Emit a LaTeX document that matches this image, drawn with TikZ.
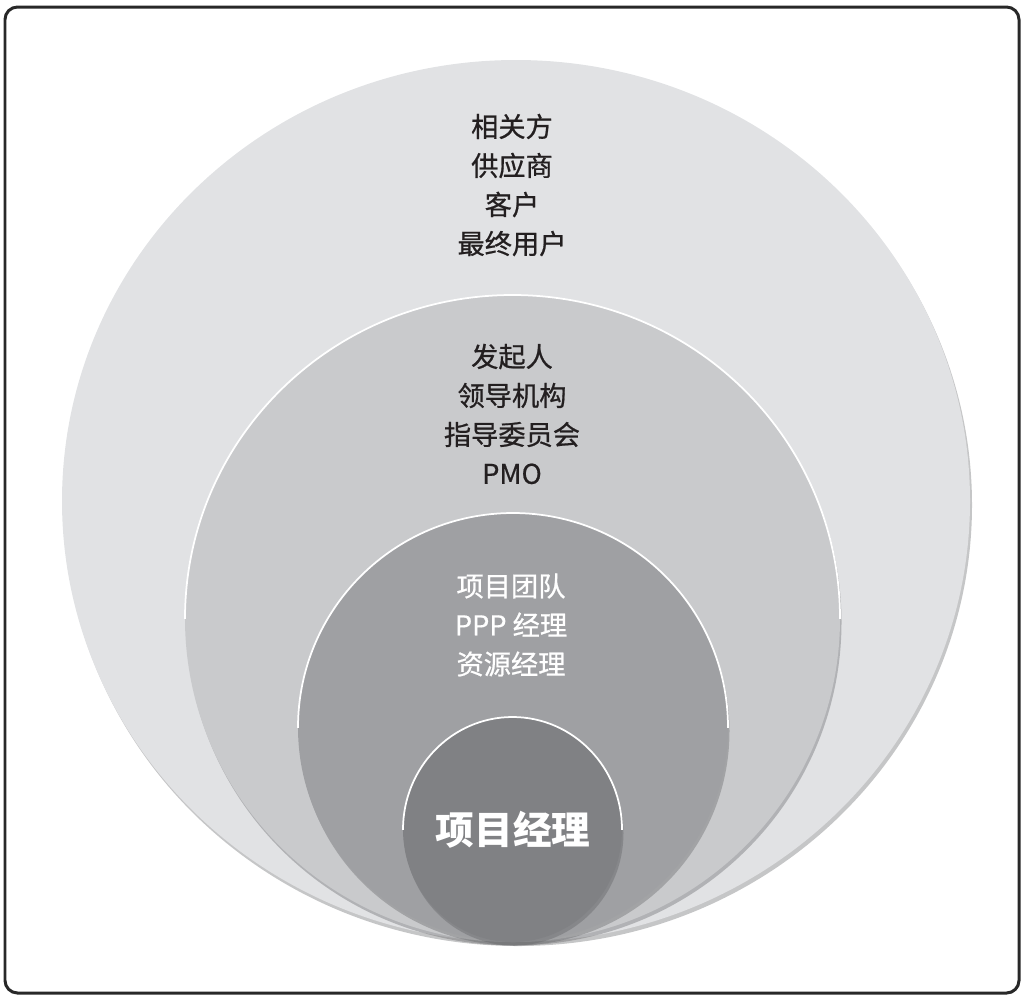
\documentclass[tikz,border=0pt]{standalone}
\usepackage{fontspec}
\setmainfont{Noto Sans CJK SC}
\newfontfamily\labelfont[RawFeature={embolden=0.7}]{Noto Sans CJK SC}
\usepackage{xcolor}
\usepackage{tikz}
\usetikzlibrary{positioning}
\definecolor{ringone}{RGB}{225,226,228}
\definecolor{ringtwo}{RGB}{201,202,204}
\definecolor{ringthree}{RGB}{159,160,163}
\definecolor{ringfour}{RGB}{128,129,132}
\definecolor{ringshade}{RGB}{90,91,94}
\definecolor{inkgray}{RGB}{35,31,32}
\definecolor{framegray}{RGB}{40,40,40}

\begin{document}
\begin{tikzpicture}[x=0.02cm, y=-0.02cm,
  every node/.style={font=\labelfont\fontsize{15.5}{22.2}\selectfont, align=center},
  darklabel/.style={text=inkgray},
  lightlabel/.style={text=white},
  ringshadow/.style={fill=ringshade, opacity=0.35},
  ringrim/.style={draw=white, line width=0.035cm}]
  \useasboundingbox (0,0) rectangle (1023,995);
  \draw[framegray, line width=0.06cm, rounded corners=0.25cm] (5,7) rectangle (1019,993);
  % outer ring
  \fill[ringshadow] (518,505) ellipse [x radius=454, y radius=441];
  \fill[ringone] (516,501) ellipse [x radius=454, y radius=441];
  % sponsor ring
  \fill[ringshadow] (514,622) ellipse [x radius=327.5, y radius=323.5];
  \fill[ringtwo] (512.5,618.5) ellipse [x radius=327.5, y radius=323.5];
  \begin{scope}
    \clip (0,0) rectangle (1023,618.5);
    \draw[ringrim] (512.5,618.5) ellipse [x radius=327.5, y radius=323.5];
  \end{scope}
  % team ring
  \fill[ringshadow] (514.5,731) ellipse [x radius=215, y radius=214.5];
  \fill[ringthree] (513,727.5) ellipse [x radius=215, y radius=214.5];
  \begin{scope}
    \clip (0,0) rectangle (1023,727.5);
    \draw[ringrim] (513,727.5) ellipse [x radius=215, y radius=214.5];
  \end{scope}
  % core ring
  \fill[ringshadow] (514,833) ellipse [x radius=109.5, y radius=112.5];
  \fill[ringfour] (512.5,829.5) ellipse [x radius=109.5, y radius=112.5];
  \begin{scope}
    \clip (0,0) rectangle (1023,829.5);
    \draw[ringrim] (512.5,829.5) ellipse [x radius=109.5, y radius=112.5];
  \end{scope}
  % labels
  \node[darklabel] (stake) at (512,185) {相关方\\供应商\\客户\\最终用户};
  \node[darklabel] (sponsor) at (512,414) {发起人\\领导机构\\指导委员会\\PMO};
  \node[lightlabel] (team) at (511,625) {项目团队\\PPP 经理\\资源经理};
  \node[lightlabel, font=\normalfont\fontsize{22}{26}\selectfont\bfseries] (pm) at (513,830) {项目经理};
\end{tikzpicture}
\end{document}
